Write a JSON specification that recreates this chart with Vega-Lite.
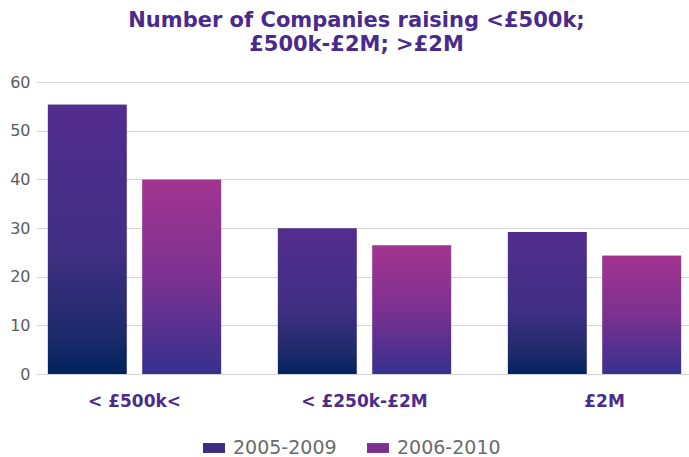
{
  "$schema": "https://vega.github.io/schema/vega-lite/v6.json",
  "autosize": "none",
  "width": 653,
  "height": 292,
  "padding": {"left": 36, "top": 82, "right": 0, "bottom": 83},
  "background": "#ffffff",
  "title": {
    "text": ["Number of Companies raising <£500k;", "£500k-£2M; >£2M"],
    "font": "DejaVu Sans",
    "fontSize": 21,
    "fontWeight": "bold",
    "color": "#4a2a8c",
    "anchor": "middle",
    "frame": "group",
    "baseline": "bottom",
    "lineHeight": 24,
    "offset": -2,
    "dx": -6
  },
  "data": {
    "values": [
      {"band": "< £500k<", "period": "2005-2009", "companies": 55.3},
      {"band": "< £500k<", "period": "2006-2010", "companies": 39.9},
      {"band": "< £250k-£2M", "period": "2005-2009", "companies": 29.9},
      {"band": "< £250k-£2M", "period": "2006-2010", "companies": 26.4},
      {"band": "£2M", "period": "2005-2009", "companies": 29.2},
      {"band": "£2M", "period": "2006-2010", "companies": 24.3}
    ]
  },
  "encoding": {
    "x": {
      "field": "band",
      "type": "nominal",
      "sort": null,
      "title": null,
      "scale": {"range": [0, 657], "paddingInner": 0.1435, "paddingOuter": 0},
      "axis": {
        "domain": false,
        "ticks": false,
        "tickSize": 0,
        "grid": false,
        "labelAngle": 0,
        "labelFont": "DejaVu Sans",
        "labelFontSize": 17,
        "labelFontWeight": "bold",
        "labelColor": "#4b2b8c",
        "labelPadding": 19,
        "labelOffset": {"expr": "datum.value == '£2M' ? 10 : 0"}
      }
    },
    "xOffset": {
      "field": "period",
      "type": "nominal",
      "scale": {"paddingInner": 0.168, "paddingOuter": 0.126}
    },
    "y": {
      "field": "companies",
      "type": "quantitative",
      "title": null,
      "scale": {"domain": [0, 60], "nice": false},
      "axis": {
        "values": [0, 10, 20, 30, 40, 50, 60],
        "domain": false,
        "ticks": false,
        "tickSize": 0,
        "grid": true,
        "gridColor": "#d4d4d4",
        "gridWidth": 1,
        "labelFont": "DejaVu Sans",
        "labelFontSize": 16,
        "labelColor": "#5c5c5c",
        "labelPadding": 6
      }
    }
  },
  "layer": [
    {
      "mark": {"type": "bar"},
      "encoding": {
        "color": {
          "field": "period",
          "type": "nominal",
          "title": null,
          "scale": {"domain": ["2005-2009", "2006-2010"], "range": ["#3d2d80", "#7c3191"]},
          "legend": {
            "orient": "none",
            "direction": "horizontal",
            "legendX": 167,
            "legendY": 355,
            "symbolType": "M-1,-0.45H1V0.45H-1Z",
            "symbolSize": 484,
            "symbolStrokeWidth": 0,
            "symbolOpacity": 1,
            "labelFont": "DejaVu Sans",
            "labelFontSize": 19,
            "labelColor": "#6b6b6b",
            "labelOffset": 8,
            "columnPadding": 30,
            "labelLimit": 200,
            "encoding": {
              "symbols": {
                "fill": {
                  "condition": {
                    "test": "datum.value === '2005-2009'",
                    "value": {"gradient": "linear", "x1": 0, "y1": 0, "x2": 0, "y2": 1,
                      "stops": [
                        {"offset": 0, "color": "#532d8f"},
                        {"offset": 0.55, "color": "#402f83"},
                        {"offset": 0.85, "color": "#1e2a6b"},
                        {"offset": 1, "color": "#00235d"}
                      ]}
                  },
                  "value": {"gradient": "linear", "x1": 0, "y1": 0, "x2": 0, "y2": 1,
                    "stops": [
                      {"offset": 0, "color": "#a33490"},
                      {"offset": 0.5, "color": "#7c3191"},
                      {"offset": 1, "color": "#36308f"}
                    ]}
                }
              }
            }
          }
        }
      }
    },
    {
      "mark": {"type": "bar"},
      "encoding": {
        "fill": {
          "condition": {
            "test": "datum.period === '2005-2009'",
            "value": {"gradient": "linear", "x1": 0, "y1": 0, "x2": 0, "y2": 1,
              "stops": [
                {"offset": 0, "color": "#532d8f"},
                {"offset": 0.55, "color": "#402f83"},
                {"offset": 0.85, "color": "#1e2a6b"},
                {"offset": 1, "color": "#00235d"}
              ]}
          },
          "value": {"gradient": "linear", "x1": 0, "y1": 0, "x2": 0, "y2": 1,
            "stops": [
              {"offset": 0, "color": "#a33490"},
              {"offset": 0.5, "color": "#7c3191"},
              {"offset": 1, "color": "#36308f"}
            ]}
        }
      }
    }
  ],
  "config": {
    "view": {"stroke": null}
  }
}
